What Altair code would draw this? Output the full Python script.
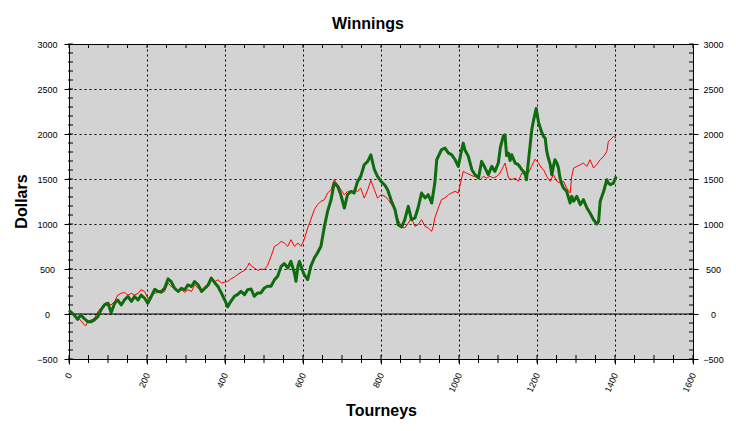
import altair as alt
import pandas as pd

# ---- data ----
green_t = [0, 13, 22, 30, 39, 48, 57, 65, 74, 82, 91, 100, 108, 117, 125, 134, 142, 151, 160, 168,
           177, 185, 194, 202, 211, 220, 228, 237, 245, 254, 262, 271, 280, 288, 297, 305, 314, 322, 331, 340,
           348, 357, 365, 374, 382, 391, 400, 407, 415, 424, 432, 441, 450, 458, 467, 475, 484, 492, 501, 509,
           518, 527, 535, 544, 552, 561, 569, 578, 582, 587, 591, 595, 603, 612, 620, 629, 637, 646, 655, 663,
           672, 680, 689, 697, 706, 714, 723, 731, 740, 748, 757, 766, 774, 783, 791, 800, 810, 817, 827, 836,
           844, 853, 861, 870, 878, 887, 895, 904, 913, 921, 930, 938, 943, 955, 964, 973, 981, 990, 998, 1007,
           1011, 1015, 1024, 1033, 1041, 1050, 1058, 1067, 1075, 1084, 1092, 1101, 1106, 1114, 1118, 1122, 1127, 1131, 1135, 1144,
           1152, 1161, 1169, 1173, 1178, 1183, 1187, 1191, 1198, 1204, 1208, 1212, 1217, 1221, 1225, 1229, 1234, 1238, 1242, 1246,
           1251, 1255, 1259, 1264, 1268, 1276, 1285, 1289, 1294, 1302, 1311, 1319, 1328, 1336, 1345, 1353, 1358, 1362, 1371, 1379,
           1383, 1388, 1396, 1403]
green_v = [40, -10, -60, -10, -50, -85, -85, -65, -30, 45, 100, 120, 15, 120, 155, 100, 155, 195, 140, 195,
           155, 210, 175, 120, 195, 275, 250, 250, 285, 390, 360, 285, 250, 285, 270, 325, 305, 360, 325, 250,
           285, 325, 400, 345, 305, 230, 150, 80, 141, 197, 215, 252, 215, 270, 278, 197, 234, 234, 289, 308,
           308, 382, 419, 530, 560, 511, 585, 456, 363, 530, 585, 530, 437, 382, 530, 622, 678, 752, 974, 1140,
           1270, 1455, 1418, 1325, 1177, 1325, 1362, 1344, 1473, 1529, 1658, 1695, 1769, 1603, 1529, 1473, 1430, 1381, 1252, 1159,
           993, 967, 1048, 1196, 1048, 1067, 1178, 1344, 1289, 1326, 1233, 1455, 1714, 1825, 1844, 1788, 1770, 1714, 1640, 1825,
           1899, 1825, 1751, 1603, 1548, 1511, 1696, 1622, 1548, 1640, 1585, 1680, 1850, 1981, 1992, 1760, 1788, 1705, 1770, 1677,
           1659, 1603, 1566, 1492, 1696, 1900, 2059, 2148, 2284, 2129, 2074, 2020, 1970, 1955, 1807, 1733, 1659, 1548, 1640, 1714,
           1677, 1622, 1511, 1437, 1400, 1363, 1233, 1307, 1252, 1307, 1215, 1270, 1178, 1122, 1048, 1000, 1030, 1252, 1363, 1492,
           1455, 1437, 1455, 1529]

red_t = [0, 13, 26, 39, 43, 48, 57, 65, 74, 82, 91, 100, 108, 117, 125, 134, 142, 151, 160, 168,
         177, 185, 194, 202, 211, 220, 228, 237, 245, 254, 262, 271, 280, 288, 297, 305, 314, 322, 331, 340,
         348, 357, 365, 374, 382, 391, 400, 407, 415, 424, 432, 441, 450, 458, 462, 467, 475, 484, 492, 501,
         509, 518, 527, 535, 544, 552, 561, 569, 578, 587, 595, 603, 612, 620, 629, 637, 646, 655, 663, 672,
         680, 689, 697, 706, 714, 723, 731, 740, 748, 757, 766, 774, 783, 791, 800, 810, 819, 827, 836, 844,
         853, 861, 870, 878, 887, 895, 904, 913, 921, 930, 934, 938, 947, 955, 964, 973, 981, 990, 998, 1002,
         1011, 1019, 1028, 1037, 1045, 1054, 1062, 1071, 1080, 1088, 1097, 1105, 1114, 1118, 1127, 1135, 1144, 1152, 1161, 1169,
         1178, 1186, 1195, 1204, 1212, 1217, 1225, 1234, 1242, 1251, 1259, 1268, 1276, 1285, 1289, 1294, 1302, 1311, 1319, 1328,
         1336, 1345, 1353, 1362, 1371, 1379, 1383, 1388, 1396, 1403]
red_v = [30, -10, -50, -120, -130, -85, -65, -50, 25, 65, 120, 120, 100, 140, 210, 230, 240, 210, 230, 210,
         230, 270, 250, 175, 200, 230, 240, 230, 250, 345, 305, 285, 250, 270, 240, 270, 250, 325, 285, 270,
         275, 305, 380, 360, 380, 345, 355, 363, 389, 411, 437, 463, 485, 530, 567, 537, 511, 485, 500, 493,
         537, 640, 752, 770, 807, 789, 752, 826, 752, 789, 752, 826, 955, 1048, 1159, 1214, 1251, 1270, 1344, 1381,
         1492, 1436, 1381, 1325, 1362, 1344, 1381, 1362, 1399, 1288, 1381, 1484, 1381, 1288, 1325, 1307, 1270, 1215, 1159, 1048,
         967, 956, 1011, 1067, 974, 993, 1048, 974, 956, 919, 974, 1067, 1178, 1270, 1289, 1326, 1344, 1363, 1344, 1418,
         1585, 1566, 1548, 1529, 1529, 1492, 1529, 1511, 1529, 1511, 1529, 1566, 1640, 1677, 1511, 1492, 1511, 1474, 1566, 1548,
         1566, 1640, 1720, 1677, 1620, 1603, 1529, 1474, 1548, 1474, 1455, 1474, 1400, 1344, 1529, 1622, 1640, 1659, 1677, 1640,
         1714, 1622, 1659, 1714, 1751, 1807, 1918, 1936, 1973, 1955]

x_major = [0, 200, 400, 600, 800, 1000, 1200, 1400, 1600]
y_major = [-500, 0, 500, 1000, 1500, 2000, 2500, 3000]
x_minor = list(range(0, 1601, 50))
y_minor = list(range(-500, 3001, 100))

FONT = "Liberation Sans"
W, H = 624, 315

xs = alt.Scale(domain=[0, 1600], nice=False, zero=False)
ys = alt.Scale(domain=[-500, 3000], nice=False, zero=False)

red_df = pd.DataFrame({"t": red_t, "v": red_v})
green_df = pd.DataFrame({"t": green_t, "v": green_v})
xminor_df = pd.DataFrame({"t": x_minor})
yminor_df = pd.DataFrame({"v": y_minor})
zero_df = pd.DataFrame({"v": [0]})

x_bottom = alt.Axis(values=x_major, title="Tourneys", orient="bottom", format="d",
                    labelAngle=294, labelAlign="right", labelBaseline="middle",
                    labelPadding=9, labelFont=FONT, labelFontSize=9, labelColor="black",
                    tickSize=5, tickColor="black", domainColor="black",
                    grid=True, gridColor="black", gridDash=[2, 3], gridOpacity=1,
                    titleFont=FONT, titleFontSize=16, titleFontWeight="bold", titleColor="black",
                    titleY=56, titleBaseline="alphabetic")
y_left = alt.Axis(values=y_major, title="Dollars", orient="left", format="d",
                  labelAlign="center", labelBaseline="middle", labelPadding=17,
                  labelFont=FONT, labelFontSize=9, labelColor="black",
                  tickSize=5, tickColor="black", domainColor="black",
                  grid=True, gridColor="black", gridDash=[2, 3], gridOpacity=1,
                  titleFont=FONT, titleFontSize=16, titleFontWeight="bold", titleColor="black",
                  titleAngle=270, titleX=-43, titleY=157, titleAlign="center", titleBaseline="alphabetic")
y_right = alt.Axis(values=y_major, title=None, orient="right", format="d",
                   labelAlign="center", labelBaseline="middle", labelPadding=15,
                   labelFont=FONT, labelFontSize=9, labelColor="black",
                   tickSize=5, tickColor="black", domainColor="black", grid=False)
x_top = alt.Axis(orient="top", title=None, labels=False, ticks=False,
                 domainColor="black", grid=False)

zero_line = alt.Chart(zero_df).mark_rule(color="black", strokeWidth=1).encode(
    y=alt.Y("v:Q", scale=ys, axis=None))

bottom_ticks = alt.Chart(xminor_df).mark_rule(color="black").encode(
    x=alt.X("t:Q", scale=xs, axis=None), y=alt.value(H - 4), y2=alt.value(H + 4))
top_ticks = alt.Chart(xminor_df).mark_rule(color="black").encode(
    x=alt.X("t:Q", scale=xs, axis=x_top), y=alt.value(0), y2=alt.value(4))
left_ticks = alt.Chart(yminor_df).mark_rule(color="black").encode(
    y=alt.Y("v:Q", scale=ys, axis=None), x=alt.value(-1), x2=alt.value(4))
right_ticks = alt.Chart(yminor_df).mark_rule(color="black").encode(
    y=alt.Y("v:Q", scale=ys, axis=y_right), x=alt.value(W - 4), x2=alt.value(W + 1))

red_line = alt.Chart(red_df).mark_line(color="#FF0000", strokeWidth=1).encode(
    x=alt.X("t:Q", scale=xs, axis=x_bottom),
    y=alt.Y("v:Q", scale=ys, axis=y_left))
green_line = alt.Chart(green_df).mark_line(color="#0E6B0E", strokeWidth=3, strokeJoin="round").encode(
    x=alt.X("t:Q", scale=xs, axis=None),
    y=alt.Y("v:Q", scale=ys, axis=None))

chart = alt.layer(
    red_line, zero_line, bottom_ticks, top_ticks, left_ticks, right_ticks, green_line
).resolve_axis(x="independent", y="independent").properties(
    width=W, height=H,
    title=alt.TitleParams("Winnings", font=FONT, fontSize=16, fontWeight="bold",
                          color="black", anchor="middle", offset=17, baseline="alphabetic",
                          dx=-13, dy=22),
    autosize=alt.AutoSizeParams(type="none"),
    padding={"left": 61, "top": 36, "right": 35, "bottom": 64},
).configure_view(fill="#D3D3D3", stroke=None)

chart.save("out.html", embed_options={"renderer": "svg", "actions": False})
